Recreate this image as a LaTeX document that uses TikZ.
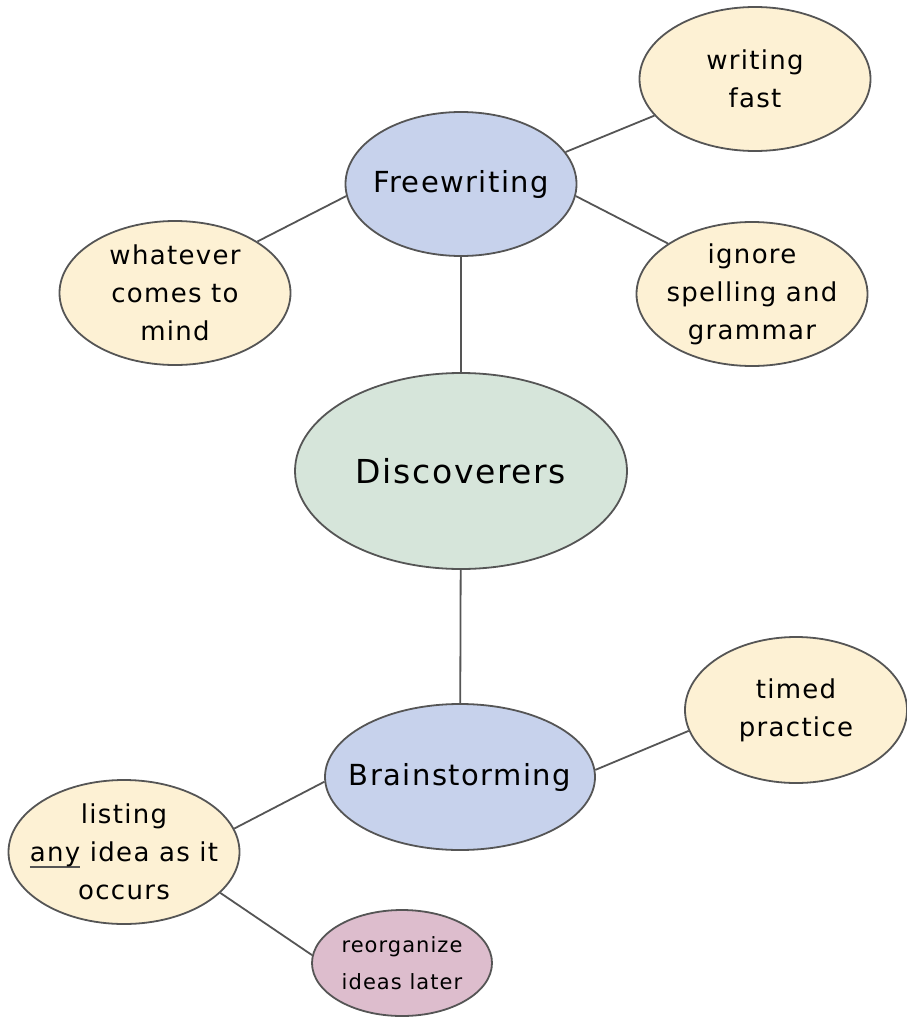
\documentclass[tikz,border=0pt]{standalone}
\usepackage{fontspec}
\setmainfont{DejaVu Sans}[LetterSpace=5]
\usetikzlibrary{shapes.geometric}
\definecolor{cream}{HTML}{FDF1D4}
\definecolor{lblue}{HTML}{C7D2EC}
\definecolor{lgreen}{HTML}{D6E5DA}
\definecolor{lpink}{HTML}{DDBDCD}
\definecolor{edge}{HTML}{555555}
\newcommand{\grayul}[1]{{\setbox0\hbox{#1}\rlap{\color{edge}\raisebox{-6pt}{\rule{\wd0}{2.2pt}}}\box0}}
\tikzset{
  bubble/.style={ellipse, draw=edge, line width=1.8pt, inner xsep=-40pt, inner ysep=-20pt, align=center, text=black},
  idea/.style={bubble, fill=cream, minimum width=231pt, minimum height=144pt, font=\fontsize{26}{38}\selectfont},
  topic/.style={bubble, fill=lblue, font=\fontsize{29}{32}\selectfont},
  link/.style={draw=edge, line width=1.8pt}
}
\begin{document}
\begin{tikzpicture}[x=1pt,y=-1pt]
\useasboundingbox (0,0) rectangle (907,1017);
\node[bubble, fill=lgreen, minimum width=332pt, minimum height=196pt, font=\fontsize{33}{36}\selectfont] (disc) at (461,471) {Discoverers};
\node[topic, minimum width=231pt, minimum height=144pt] (free) at (461,184) {Freewriting};
\node[topic, minimum width=270pt, minimum height=146pt] (brain) at (460,777) {Brainstorming};
\node[idea] (fast) at (755,79) {writing\\fast};
\node[idea] (whatever) at (175,293) {whatever\\comes to\\mind};
\node[idea] (ignore) at (752,294) {ignore\\spelling and\\grammar};
\node[idea, minimum width=222pt, minimum height=146pt] (timed) at (796,710) {timed\\practice};
\node[idea] (listing) at (124,852) {listing\\\grayul{any} idea as it\\occurs};
\node[bubble, fill=lpink, minimum width=180pt, minimum height=106pt, font=\fontsize{21}{37}\selectfont] (reorg) at (402,963) {reorganize\\ideas later};
\draw[link] (free) -- (disc);
\draw[link] (disc) -- (brain);
\draw[link] (free.186) -- (whatever.32);
\draw[link] (free.17) -- (fast.200);
\draw[link] (free.354) -- (ignore.149);
\draw[link] (brain.3) -- (timed.191);
\draw[link] (brain.182) -- (listing.12);
\draw[link] (listing.337) -- (reorg.175);
\end{tikzpicture}
\end{document}
